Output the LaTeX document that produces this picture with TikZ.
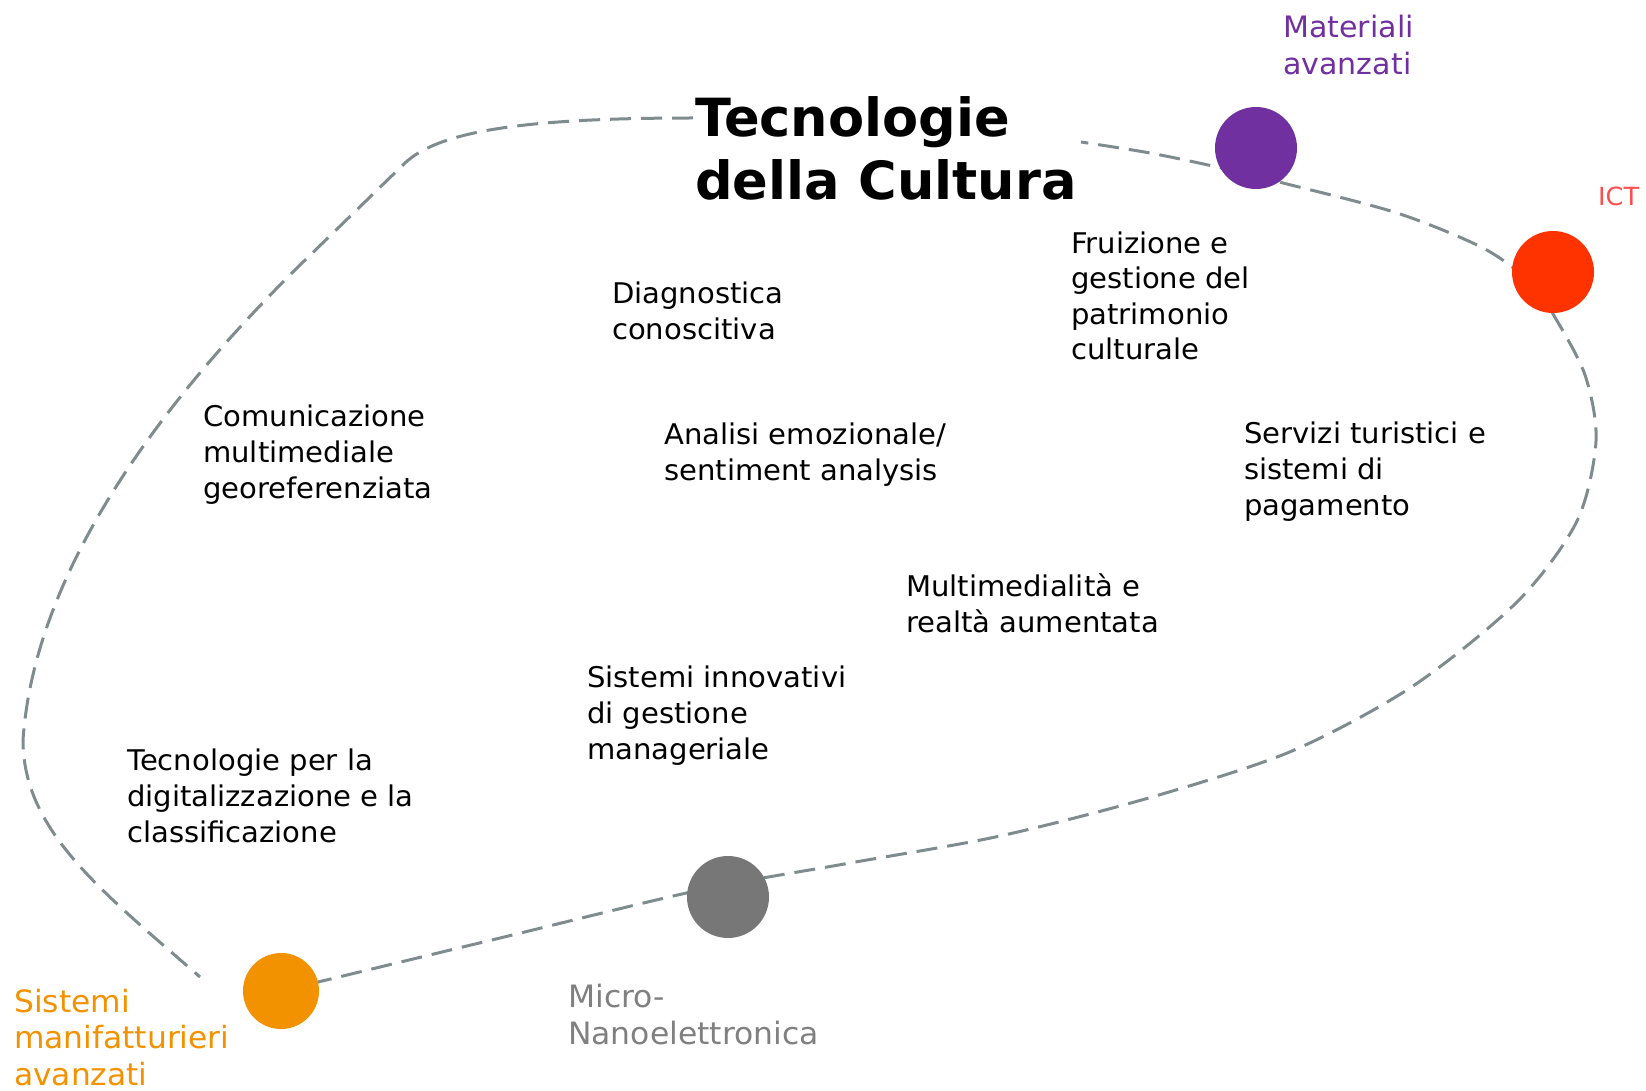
\documentclass[tikz,border=0pt]{standalone}
\usepackage{fontspec}
\setmainfont{DejaVu Sans}
\newfontfamily\bodyf[FakeStretch=1.02]{DejaVu Sans}
\definecolor{lineC}{HTML}{7F8C8D}
\definecolor{purpC}{HTML}{7030A0}
\definecolor{ictC}{HTML}{FF3300}
\definecolor{ictT}{HTML}{FF4C4C}
\definecolor{greyC}{HTML}{777777}
\definecolor{greyT}{HTML}{808080}
\definecolor{oranC}{HTML}{F39200}
\begin{document}
\begin{tikzpicture}[x=1pt,y=-1pt,
  body/.style={anchor=base west, align=left, inner sep=0pt, font=\bodyf\fontsize{28.5}{36}\selectfont},
  lab/.style={anchor=base west, align=left, inner sep=0pt, font=\bodyf\fontsize{29.5}{37}\selectfont},
  dot/.style={circle, inner sep=0pt, minimum size=82pt},
  curve/.style={draw=lineC, line width=3pt, dash pattern=on 21pt off 10pt}
]
\useasboundingbox (0,0) rectangle (1646,1091);
\coordinate (pM) at (1256,148);
\coordinate (pI) at (1553,272);
\coordinate (pG) at (728,897);
\coordinate (pO) at (281,991);
\coordinate (tL) at (693,118);
\coordinate (tR) at (1081,142);
\coordinate (endL) at (200,977);
% left loop
\draw[curve] (tL) .. controls (530,118) and (440,130) .. (405,163)
  -- (300,265) .. controls (170,393) and (35,565) .. (23,740)
  .. controls (23,830) and (100,890) .. (endL);
% right loop
\draw[curve] plot[smooth, tension=0.5] coordinates {(pO) (500,938) (700,890) (850,863) (1000,836) (1152,797) (1292,751) (1413,686) (1518,601) (1577,521) (1596,441) (1585,375) (1553,314) (1530,282) (1483,248) (1397,213) (1283,183) (1217,167) (1150,153) (tR)};
% circles
\node[dot, fill=purpC] (mat) at (pM) {};
\node[dot, fill=ictC] (ict) at (pI) {};
\node[dot, fill=greyC] (micro) at (pG) {};
\node[dot, fill=oranC, minimum size=76pt] (sist) at (pO) {};
% title (anchor = baseline of last line)
\node[anchor=base west, align=left, inner sep=0pt, font=\bfseries\fontsize{52.6}{63}\selectfont] (title) at (695,200) {Tecnologie\\della Cultura};
% labels
\node[lab, text=purpC] (lmat) at (1283,75) {Materiali\\avanzati};
\node[lab, text=ictT, font=\bodyf\fontsize{25}{30}\selectfont] (lict) at (1598,206) {ICT};
\node[lab, text=oranC, font=\bodyf\fontsize{30.7}{36.5}\selectfont] (lsist) at (14,1085) {Sistemi\\manifatturieri\\avanzati};
\node[lab, text=greyT, font=\bodyf\fontsize{30.8}{37}\selectfont] (lmicro) at (568,1044) {Micro-\\Nanoelettronica};
% body texts
\node[body] (t1) at (612,339) {Diagnostica\\conoscitiva};
\node[body, font=\bodyf\fontsize{28.5}{35.5}\selectfont] (t2) at (1071,359.5) {Fruizione e\\gestione del\\patrimonio\\culturale};
\node[body] (t3) at (203,498) {Comunicazione\\multimediale\\georeferenziata};
\node[body] (t4) at (664,480) {Analisi emozionale/\\sentiment analysis};
\node[body] (t5) at (1244,515) {Servizi turistici e\\sistemi di\\pagamento};
\node[body] (t6) at (906,632) {Multimedialità e\\realtà aumentata};
\node[body] (t7) at (587,759) {Sistemi innovativi\\di gestione\\manageriale};
\node[body] (t8) at (127,842) {Tecnologie per la\\digitalizzazione e la\\classificazione};
\end{tikzpicture}
\end{document}
